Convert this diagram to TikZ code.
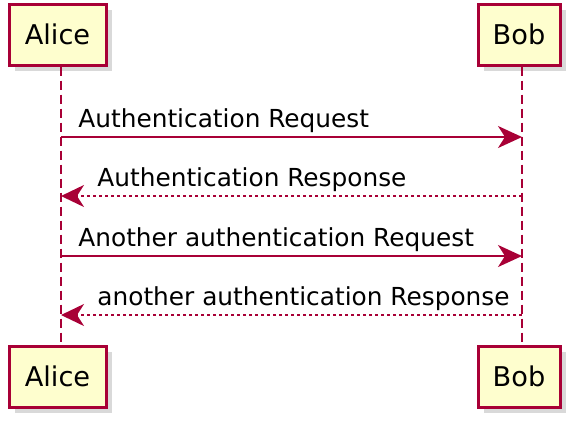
\documentclass[tikz,border=0pt]{standalone}
\usepackage{fontspec}
\setmainfont{DejaVu Sans}
\usetikzlibrary{arrows.meta, shadows}
\definecolor{umlred}{HTML}{A80036}
\definecolor{umlfill}{HTML}{FEFECE}

\tikzset{
    actorbox/.style={draw=umlred, line width=1.5pt, fill=umlfill, minimum height=30.5pt,
        inner sep=0pt, font=\fontsize{13.6}{16}\selectfont,
        drop shadow={opacity=0.3, shadow xshift=3pt, shadow yshift=-3pt}},
    lifeline/.style={umlred, line width=1pt, dash pattern=on 4.5pt off 2.5pt},
    callmsg/.style={umlred, line width=1pt, -{Stealth[length=12pt, width=11pt, inset=3.5pt]}},
    replymsg/.style={umlred, line width=1pt, dash pattern=on 1.5pt off 1.5pt,
        -{Stealth[length=11.5pt, width=11pt, inset=3.5pt]}},
    msglabel/.style={anchor=base west, inner sep=0pt, font=\fontsize{12.4}{15}\selectfont}
}

\begin{document}
\begin{tikzpicture}[x=0.5pt, y=-0.5pt]
    \useasboundingbox (0,0) rectangle (568,420);
    % Participants
    \node[actorbox, minimum width=48.5pt] (aliceTop) at (57.5,34.5) {Alice};
    \node[actorbox, minimum width=41pt] (bobTop) at (519,34.5) {Bob};
    \node[actorbox, minimum width=48.5pt] (aliceBot) at (57.5,376.5) {Alice};
    \node[actorbox, minimum width=41pt] (bobBot) at (519,376.5) {Bob};
    % Lifelines
    \draw[lifeline] ([xshift=1.5pt]aliceTop.south) -- ([xshift=1.5pt]aliceBot.north);
    \draw[lifeline] ([xshift=1.5pt]bobTop.south) -- ([xshift=1.5pt]bobBot.north);
    % Message end points
    \coordinate (a1) at (61,137); \coordinate (b1) at (522,137);
    \coordinate (a2) at (61,196); \coordinate (b2) at (522,196);
    \coordinate (a3) at (61,256); \coordinate (b3) at (522,256);
    \coordinate (a4) at (61,315); \coordinate (b4) at (522,315);
    % Messages
    \draw[callmsg] (a1) -- (b1);
    \node[msglabel] (m1) at (78,127) {Authentication Request};
    \draw[replymsg] (b2) -- (a2);
    \node[msglabel] (m2) at (97,186) {Authentication Response};
    \draw[callmsg] (a3) -- (b3);
    \node[msglabel] (m3) at (78,246) {Another authentication Request};
    \draw[replymsg] (b4) -- (a4);
    \node[msglabel] (m4) at (97,305) {another authentication Response};
\end{tikzpicture}
\end{document}
